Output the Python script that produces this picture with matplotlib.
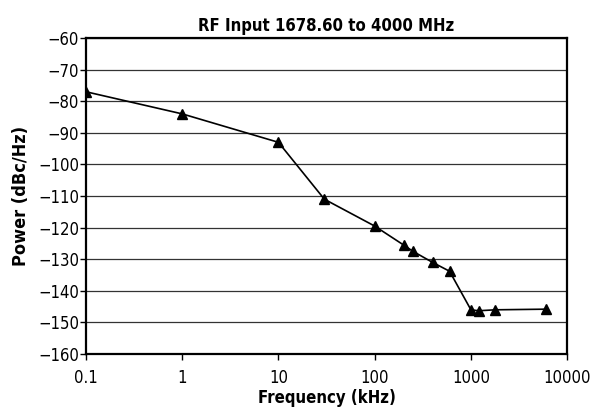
import matplotlib
matplotlib.use("Agg")
import matplotlib.pyplot as plt

# data
freq_khz = [0.1, 1, 10, 30, 100, 200, 250, 400, 600, 1000, 1200, 1800, 6000]
power_dbc = [-77, -84, -93, -111, -119.5, -125.5, -127.5, -131, -133.8, -146, -146.3, -146, -145.8]
x_ticks = [0.1, 1, 10, 100, 1000, 10000]
x_tick_labels = ["0.1", "1", "10", "100", "1000", "10000"]
y_ticks = list(range(-160, -59, 10))

plt.rcParams["font.family"] = "DejaVu Sans"
plt.rcParams["font.stretch"] = "condensed"

fig = plt.figure(figsize=(5.97, 4.18), dpi=100)
ax = fig.add_axes([0.144, 0.153, 0.806, 0.756])

ax.plot(freq_khz, power_dbc, color="black", lw=1.2, marker="^", ms=7, zorder=3)

ax.set_xscale("log")
ax.set_xlim(0.1, 10000)
ax.set_ylim(-160, -60)
ax.set_xticks(x_ticks)
ax.set_xticklabels(x_tick_labels)
ax.minorticks_off()
ax.set_yticks(y_ticks)
ax.set_yticklabels(["\u2212%d" % abs(v) for v in y_ticks])
ax.yaxis.grid(True, color="#333333", lw=0.9)
ax.set_axisbelow(True)

for s in ax.spines.values():
    s.set_linewidth(1.6)
ax.tick_params(axis="both", labelsize=12, length=4, width=1, direction="out")
ax.tick_params(axis="x", pad=7)
ax.tick_params(axis="y", pad=1)

ax.set_title("RF Input 1678.60 to 4000 MHz", fontsize=12, fontweight="bold", pad=5)
ax.set_xlabel("Frequency (kHz)", fontsize=12, fontweight="bold", labelpad=1)
ax.set_ylabel("Power (dBc/Hz)", fontsize=13, fontweight="bold", labelpad=6)

fig.savefig("out.png", dpi=100)
